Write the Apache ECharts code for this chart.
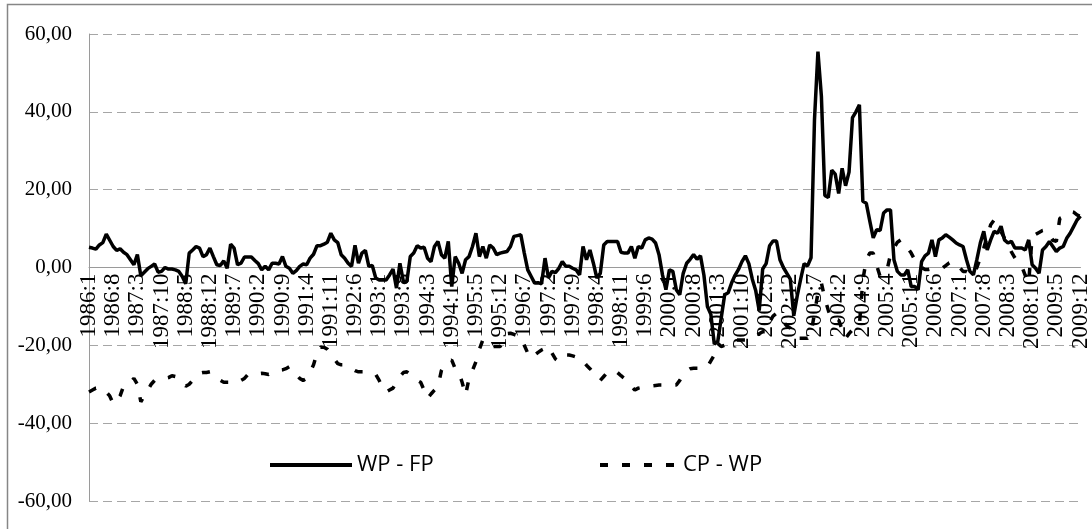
<!DOCTYPE html>
<html>
<head>
<meta charset="utf-8">
<script src="https://cdn.jsdelivr.net/npm/echarts@6/dist/echarts.min.js"></script>
<style>
  html, body { margin: 0; padding: 0; background: #fff; }
  #chart { width: 1092px; height: 529px; }
</style>
</head>
<body>
<div id="chart"></div>
<script>
// monthly series 1986:1 .. 2009:12
const startYear = 1986
const endYear = 2009
const yTicks = [-60, -40, -20, 0, 20, 40, 60]

const wpFp = [
  5.2, 5.0, 4.7, 5.8, 6.4, 8.6, 7.0, 5.4, 4.4, 4.8, 3.9, 3.3,
  2.0, 0.7, 3.3, -2.1, -1.2, -0.3, 0.3, 0.9, -1.2, -1.0, 0, -0.4,
  -0.4, -0.6, -1.0, -2.3, -4.2, 3.7, 4.5, 5.4, 5.0, 2.8, 3.3, 5.0,
  2.8, 0.7, 0.5, 1.7, -0.2, 6.0, 5.0, 0.7, 1.1, 2.7, 2.7, 2.7,
  1.8, 1.0, -0.6, 0.3, -0.6, 1.1, 1.1, 0.9, 2.8, 0.3, -0.2, -1.5,
  -0.8, 0.3, 0.9, 0.7, 2.4, 3.4, 5.6, 5.6, 6.0, 6.5, 8.8, 7.1,
  6.4, 3.3, 2.4, 1.1, 0.3, 5.7, 1.1, 3.7, 4.4, 0.3, 0.5, -2.7,
  -3.2, -3.2, -3.2, -1.9, -0.4, -5.3, 1.1, -3.6, -3.6, 2.8, 3.7, 5.6,
  5.0, 5.2, 2.4, 1.5, 5.4, 6.7, 3.3, 2.4, 6.7, -4.9, 2.8, 1.1,
  -1.5, 2.0, 2.8, 5.4, 8.8, 2.8, 5.4, 2.4, 5.8, 5.0, 3.3, 3.7,
  3.9, 4.1, 5.4, 8.0, 8.2, 8.4, 3.7, -0.6, -2.3, -4.0, -3.9, -4.2,
  2.4, -2.7, -1.0, -1.3, -0.2, 1.5, 0.3, 0.3, -0.2, -0.6, -1.9, 5.4,
  2.0, 4.5, 1.1, -2.7, -1.5, 5.8, 6.7, 6.7, 6.7, 6.7, 3.9, 3.7,
  3.7, 5.4, 2.4, 5.4, 5.0, 7.1, 7.6, 7.3, 6.3, 3.3, -1.9, -5.7,
  -0.6, -1.0, -5.7, -7.0, -1.5, 1.1, 2.1, 3.3, 2.1, 3.0, -2.0, -10,
  -12, -19.7, -19, -13, -7, -6.5, -4, -2, -0.5, 1.5, 3.0, 1.0,
  -3, -6, -11.1, -0.4, 1.0, 5.6, 6.8, 6.8, 2.0, 0, -1.5, -3,
  -12.4, -7.3, -3, 1.0, 0.4, 2.5, 38, 55.5, 44, 18.5, 18, 25,
  24, 19, 25.5, 21, 24.5, 38.5, 40, 41.8, 17, 16.5, 12, 7.6,
  9.7, 9.5, 14, 14.8, 14.8, 2, -1, -1.9, -1.9, -0.6, -4.9, -4.9,
  -5.7, 1.5, 3, 3.7, 7.1, 2.8, 7.1, 7.6, 8.4, 7.8, 7.1, 6.3,
  5.8, 5.4, 2, -1, -1.9, 2, 6.3, 9.3, 4.5, 7.1, 9.3, 8.8,
  10.6, 7.1, 6.3, 6.7, 5, 5, 5, 4.5, 7.1, 0.7, -0.2, -1.5,
  4.5, 5.4, 6.7, 5.4, 4.1, 5.0, 5.4, 7.5, 8.8, 10.5, 12.2, 13.2
]

const cpWp = [
  -32, -31.5, -31, -31, -31, -32, -33, -35, -34.5, -33, -30.5, -30,
  -29.5, -28.5, -30, -34.5, -33, -31.5, -30, -29, -28.5, -28.5, -28.5, -28.3,
  -27.8, -28, -28.5, -29.5, -30.5, -30, -29, -28, -27.2, -27, -27, -26.8,
  -27.5, -28, -29, -29.5, -29.5, -29.5, -29.2, -29.5, -29, -28.5, -27.5, -27.5,
  -27.5, -27.3, -27.2, -27.3, -27.5, -27, -26.6, -26.4, -26.3, -26, -25.5, -26.5,
  -27.5, -28.5, -29, -28.5, -27, -25, -22, -20.5, -20.5, -21, -22, -23.5,
  -24.7, -25, -25, -25.5, -26, -26.5, -26.8, -26.8, -26.8, -27, -27.2, -27.5,
  -29, -31, -32, -31.5, -31, -29.5, -28, -27, -26.8, -27.5, -28.5, -29,
  -29.5, -31.5, -33.6, -32.5, -31.5, -30.6, -26.5, -25, -24, -23.8, -26, -26.8,
  -29.5, -32.8, -28.5, -26.5, -24.2, -21, -18.6, -19, -20, -20.3, -20.3, -20.3,
  -19, -17, -16.9, -17.2, -17.5, -17.8, -20, -22, -23.3, -22.5, -21.8, -21.2,
  -20.8, -20.3, -22, -23.5, -24.2, -23.3, -22.5, -22.5, -22.7, -23, -23, -24,
  -25.1, -26, -27, -28, -29, -28, -27, -26.5, -26.4, -27, -27.8, -28.5,
  -29.5, -30.5, -31.5, -31, -30.8, -30.6, -30.6, -30.4, -30.3, -30.2, -30.2, -30.2,
  -30.2, -30.2, -30.2, -29, -27.5, -26.5, -26, -25.9, -25.9, -25.9, -25.9, -25.5,
  -24, -22.5, -19.5, -20.3, -20, -19.5, -19, -18.6, -18.6, -18.6, -18.6, -18.6,
  -18, -17.5, -17, -16.5, -16.5, -14, -12.5, -11.8, -13, -14, -15, -15.6,
  -17, -18.2, -18.2, -18.2, -18.2, -16.9, -11.8, -6.6, -4, -8, -11, -13.5,
  -13.5, -13.5, -16, -18.2, -17, -16, -15.5, -14.8, -3.2, 2, 3.7, 3.7,
  0.5, -2.3, -1.5, -0.6, 3.3, 5, 6.5, 7.1, 6, 5, 3.7, 2,
  0.3, 0, -0.5, -0.5, -0.3, -0.2, -0.2, -0.2, 0.5, 1.2, 1.5, 1,
  0, -1, -1, -1.5, -2, 0, 2.4, 5, 8, 11, 12.2, 10.5,
  9.2, 7.5, 5.8, 4, 2.5, 1.2, 0.3, -2, -4, 8, 8.5, 9,
  9.5, 9.7, 8.5, 7, 6.7, 12.6, 13, 13.8, 14.4, 14.2, 13.5, 13.1
]

const months = []
for (let y = startYear; y <= endYear; y++) {
  for (let m = 1; m <= 12; m++) months.push(y + ':' + m)
}

const chart = echarts.init(document.getElementById('chart'))
const gridTop = 34
const gridBottom = 28
const plotH = 529 - gridTop - gridBottom
// move the category axis (line + labels) up to the 0 level
const zeroOffset = -plotH * (0 - yTicks[0]) / (yTicks[yTicks.length - 1] - yTicks[0])

const legendBase = {
  top: 449,
  itemHeight: 20,
  itemStyle: { opacity: 0 },
  lineStyle: { width: 4 },
  textStyle: { fontFamily: 'Open Sans', fontSize: 22, color: '#000' }
}

const option = {
  animation: false,
  backgroundColor: '#fff',
  graphic: [{
    type: 'rect',
    shape: { x: 7.5, y: 4.5, width: 1200, height: 600 },
    style: { fill: 'none', stroke: '#868686', lineWidth: 1.5 },
    silent: true
  }],
  grid: { left: 89, right: 5, top: gridTop, bottom: gridBottom, containLabel: false },
  legend: [
    Object.assign({}, legendBase, { data: ['WP - FP'], left: 263, itemWidth: 82 }),
    Object.assign({}, legendBase, { data: ['CP - WP'], left: 593, itemWidth: 78 })
  ],
  xAxis: {
    type: 'category',
    data: months,
    boundaryGap: false,
    offset: zeroOffset,
    axisLine: { onZero: false, lineStyle: { color: '#9a9a9a', width: 1 } },
    axisTick: { show: false },
    axisLabel: {
      interval: 6,
      rotate: 90,
      margin: 6,
      fontFamily: 'Liberation Serif',
      fontSize: 23,
      color: '#000'
    },
    splitLine: { show: false }
  },
  yAxis: {
    type: 'value',
    min: yTicks[0],
    max: yTicks[yTicks.length - 1],
    interval: 20,
    axisLine: { show: true, lineStyle: { color: '#9a9a9a', width: 1 } },
    axisTick: { show: false },
    axisLabel: {
      margin: 17,
      fontFamily: 'Liberation Serif',
      fontSize: 21,
      color: '#000',
      formatter: v => v.toFixed(2).replace('.', ',')
    },
    splitLine: {
      show: true,
      lineStyle: { color: '#a6a6a6', type: [9, 5], width: 1 }
    }
  },
  series: [
    {
      name: 'WP - FP',
      type: 'line',
      data: wpFp,
      symbol: 'none',
      itemStyle: { color: '#000' },
      lineStyle: { color: '#000', width: 3.5 },
      z: 3
    },
    {
      name: 'CP - WP',
      type: 'line',
      data: cpWp,
      symbol: 'none',
      itemStyle: { color: '#000' },
      lineStyle: { color: '#000', width: 3.5, type: [8, 14], cap: 'butt' },
      z: 2
    }
  ]
}
chart.setOption(option)
</script>
</body>
</html>
